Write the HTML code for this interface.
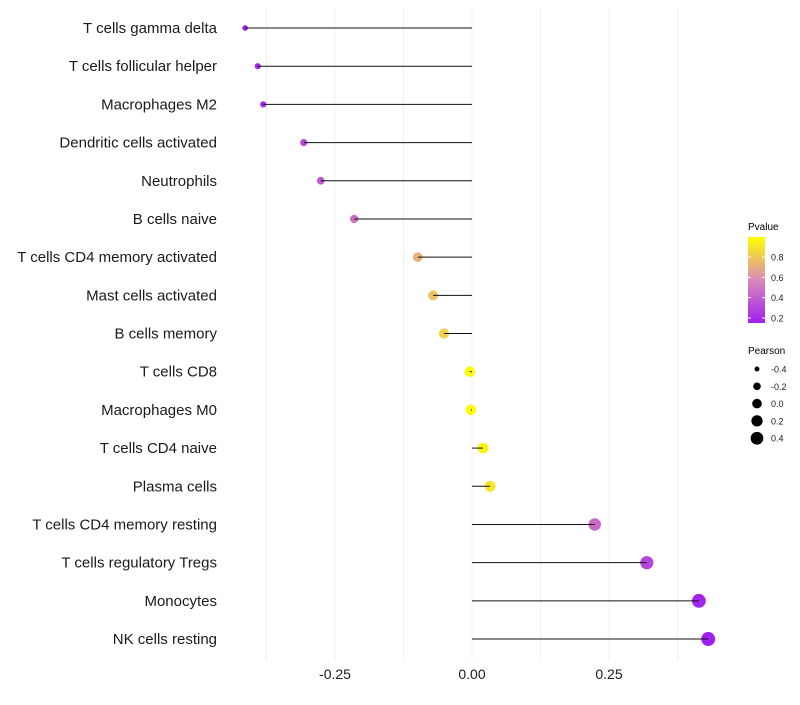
<!DOCTYPE html>
<html><head><meta charset="utf-8"><style>
body{margin:0;background:#fff;font-family:"Liberation Sans",sans-serif}
</style></head><body>
<svg id="c" width="800" height="700" xmlns="http://www.w3.org/2000/svg">
<defs><linearGradient id="g" x1="0" y1="1" x2="0" y2="0">
<stop offset="0" stop-color="#A020F0"/><stop offset="0.5" stop-color="#D98AB8"/><stop offset="1" stop-color="#FFFF00"/></linearGradient></defs>
<g id="grid"></g><g id="pts"></g><g id="marks"></g><g id="ylab"></g><g id="xlab"></g>
<g id="legend">
<text x="748" y="230" font-size="10" fill="#000">Pvalue</text>
<rect x="748" y="237" width="17" height="86" fill="url(#g)"/>
<text x="748" y="354" font-size="10" fill="#000">Pearson</text>
</g>
</svg>
<script>
const categories=["T cells gamma delta","T cells follicular helper","Macrophages M2","Dendritic cells activated","Neutrophils","B cells naive","T cells CD4 memory activated","Mast cells activated","B cells memory","T cells CD8","Macrophages M0","T cells CD4 naive","Plasma cells","T cells CD4 memory resting","T cells regulatory  Tregs","Monocytes","NK cells resting"];
const pearson=[-0.414,-0.391,-0.381,-0.307,-0.276,-0.215,-0.099,-0.071,-0.051,-0.004,-0.002,0.020,0.033,0.224,0.319,0.414,0.431];
const pvalue=[0.16,0.17,0.19,0.33,0.38,0.47,0.72,0.78,0.83,0.99,0.99,0.95,0.9,0.45,0.3,0.17,0.15];
const xTicks=[-0.25,0,0.25];
const xTickLabels=["-0.25","0.00","0.25"];
const pTicks=[0.2,0.4,0.6,0.8];
const sizeTicks=[-0.4,-0.2,0,0.2,0.4];
const NS="http://www.w3.org/2000/svg";
const X=v=>472+v*548;
const Y=i=>28+i*38.19;
const R=v=>Math.sqrt(Math.max(2,28+48*v));
const PY=p=>318-(p-0.2)*101.7;
function lerp(a,b,t){return a.map((x,k)=>Math.round(x+(b[k]-x)*t));}
function col(p){const t=Math.max(0,Math.min(1,(p-0.151)/(0.997-0.151)));
const A=[160,32,240],M=[217,138,184],B=[255,255,0];
const c=t<0.5?lerp(A,M,t/0.5):lerp(M,B,(t-0.5)/0.5);return `rgb(${c})`;}
function el(tag,attrs,parent,txt){const e=document.createElementNS(NS,tag);for(const k in attrs)e.setAttribute(k,attrs[k]);if(txt!=null)e.textContent=txt;document.getElementById(parent).appendChild(e);return e;}
for(let v=-0.375;v<=0.38;v+=0.125){
 const g=el('line',{x1:X(v),x2:X(v),y1:8,y2:660,stroke:'#f0f0f0','stroke-width':1},'grid');
 
 
}
for(let i=0;i<categories.length;i++){
 const c=el('circle',{cx:X(pearson[i]),cy:Y(i),r:R(pearson[i]),fill:col(pvalue[i])},'pts');
 
 
 const s=el('line',{x1:X(0),x2:X(pearson[i]),y1:Y(i),y2:Y(i),stroke:'#111','stroke-width':1},'marks');
 
 
 const t=el('text',{x:217,y:Y(i)+5,'text-anchor':'end','font-size':15,fill:'#1a1a1a'},'ylab',categories[i]);
 
 
}
xTicks.forEach((v,k)=>{
 const t=el('text',{x:X(v),y:679,'text-anchor':'middle','font-size':14,fill:'#1a1a1a'},'xlab',xTickLabels[k]);
 
 
});
pTicks.forEach(p=>{
 const l=el('line',{x1:748,x2:751,y1:PY(p),y2:PY(p),stroke:'#fff'},'legend');
 
 
 const l2=el('line',{x1:762,x2:765,y1:PY(p),y2:PY(p),stroke:'#fff'},'legend');
 
 
 const t=el('text',{x:771,y:PY(p)+3.5,'font-size':9,fill:'#1a1a1a'},'legend',p.toFixed(1));
 
 
});
sizeTicks.forEach((v,k)=>{
 const cy=369+k*17.3;
 const c=el('circle',{cx:757,cy:cy,r:Math.max(2,R(v)-0.5),fill:'#000'},'legend');
 
 
 const t=el('text',{x:771,y:cy+3.5,'font-size':9,fill:'#1a1a1a'},'legend',v.toFixed(1));
 
 
});
</script>
</body></html>
